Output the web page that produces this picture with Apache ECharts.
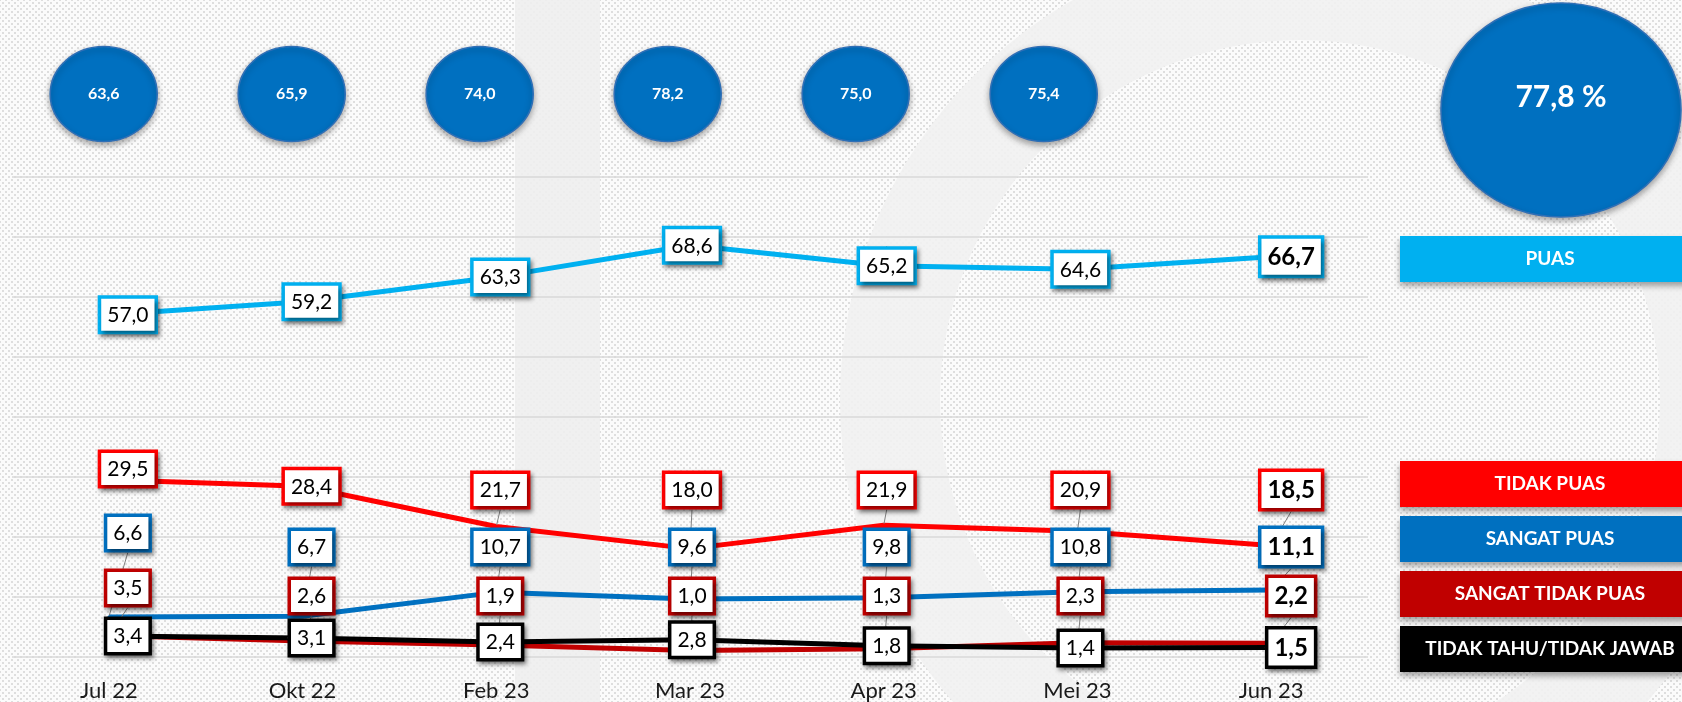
<!DOCTYPE html>
<html>
<head>
<meta charset="utf-8">
<script src="https://cdn.jsdelivr.net/npm/echarts@6/dist/echarts.min.js"></script>
<style>
  html, body { margin: 0; padding: 0; }
  #chart {
    width: 1682px; height: 702px;
    background-color: #fbfbfb;
    background-image: radial-gradient(circle, #dedede 0.9px, transparent 1.3px), radial-gradient(circle, #dedede 0.9px, transparent 1.3px);
    background-size: 6px 6px;
    background-position: 0 0, 3px 3px;
  }
</style>
</head>
<body>
<div id="chart"></div>
<script>
// ---------- data ----------
const months = ['Jul 22', 'Okt 22', 'Feb 23', 'Mar 23', 'Apr 23', 'Mei 23', 'Jun 23'];
const puas = [57.0, 59.2, 63.3, 68.6, 65.2, 64.6, 66.7];
const tidakPuas = [29.5, 28.4, 21.7, 18.0, 21.9, 20.9, 18.5];
const sangatPuas = [6.6, 6.7, 10.7, 9.6, 9.8, 10.8, 11.1];
const sangatTidakPuas = [3.5, 2.6, 1.9, 1.0, 1.3, 2.3, 2.2];
const tidakTahu = [3.4, 3.1, 2.4, 2.8, 1.8, 1.4, 1.5];
const circleMonths = ['Jul 22', 'Okt 22', 'Feb 23', 'Mar 23', 'Apr 23', 'Mei 23'];
const circleValues = [63.6, 65.9, 74.0, 78.2, 75.0, 75.4];
const latestMonth = ['Jun 23'];
const latestValue = [77.8];
const yTicks = { min: 0, max: 80, interval: 10 };

// ---------- style / layout ----------
const FONT = 'Lato, "Open Sans", sans-serif';
const C = {
  puas: '#00B0F0', tidakPuas: '#FF0000', sangatPuas: '#0070C0',
  sangatTidakPuas: '#C00000', tidakTahu: '#000000', circle: '#0070C0'
};
const COL_DX = [19, 9, 4, 2, 3, 3, 20];
const LABEL_ROW = { tidakPuas: 490, sangatPuas: 547, sangatTidakPuas: 596 };
const FIRST_LIFT = { tidakPuas: -21, sangatPuas: -14, sangatTidakPuas: -8 };
const fmt = v => v.toFixed(1).replace('.', ',');

function makeLayout(key) {
  return function (p) {
    const cx = p.rect.x + p.rect.width / 2;
    const cy = p.rect.y + p.rect.height / 2;
    const i = p.dataIndex;
    let y = cy;
    if (LABEL_ROW[key] != null) {
      y = Math.min(cy, LABEL_ROW[key] + (i === 0 ? FIRST_LIFT[key] : 0));
    }
    return { x: cx + COL_DX[i], y: y, align: 'center', verticalAlign: 'middle' };
  };
}

function lineSeries(name, key, data) {
  const last = data.length - 1;
  return {
    name: name, type: 'line', data: data,
    xAxisIndex: 0, yAxisIndex: 0,
    symbol: 'circle', symbolSize: 3, showSymbol: true,
    itemStyle: { color: C[key] },
    lineStyle: { color: C[key], width: 5 },
    emphasis: { disabled: true },
    label: {
      show: true,
      formatter: p => (p.dataIndex === last ? '{b|' + fmt(p.value) + '}' : '{n|' + fmt(p.value) + '}'),
      backgroundColor: '#ffffff',
      borderColor: C[key], borderWidth: 3.5,
      padding: [5, 6, 4, 6],
      shadowColor: 'rgba(0,0,0,0.45)', shadowBlur: 4, shadowOffsetX: 2, shadowOffsetY: 3,
      rich: {
        n: { fontFamily: FONT, fontSize: 21, color: '#000', lineHeight: 23 },
        b: { fontFamily: FONT, fontSize: 24, fontWeight: 'bold', color: '#000', lineHeight: 27 }
      }
    },
    labelLine: { show: true, lineStyle: { color: '#808080', width: 1 } },
    labelLayout: makeLayout(key),
    z: 3
  };
}

const legendRich = {};
[['p', C.puas], ['tp', C.tidakPuas], ['sp', C.sangatPuas], ['stp', C.sangatTidakPuas], ['tt', C.tidakTahu]].forEach(([k, col]) => {
  legendRich[k] = {
    width: 300, height: 46, lineHeight: 46, align: 'center',
    backgroundColor: col, color: '#fff', fontFamily: FONT, fontSize: 19, fontWeight: 'bold',
    shadowColor: 'rgba(0,0,0,0.35)', shadowBlur: 6, shadowOffsetY: 4
  };
});
const legendKey = { 'PUAS': 'p', 'TIDAK PUAS': 'tp', 'SANGAT PUAS': 'sp', 'SANGAT TIDAK PUAS': 'stp', 'TIDAK TAHU/TIDAK JAWAB': 'tt' };
const legendBase = {
  icon: 'none', itemWidth: 0, itemHeight: 0, orient: 'vertical', itemGap: 9,
  selectedMode: false,
  formatter: name => '{' + legendKey[name] + '|' + name + '}',
  textStyle: { rich: legendRich }
};

const circleStyle = { color: C.circle, opacity: 1, borderColor: '#2f6fb6', borderWidth: 1.5,
  shadowColor: 'rgba(0,0,0,0.35)', shadowBlur: 6, shadowOffsetY: 3 };

const chart = echarts.init(document.getElementById('chart'), null, { renderer: 'canvas' });
chart.setOption({
  animation: false,
  backgroundColor: 'transparent',
  graphic: [
    { type: 'rect', silent: true, z: -10, shape: { x: 515, y: 0, width: 85, height: 702 },
      style: { fill: 'rgba(238,238,238,0.9)' } },
    { type: 'ring', silent: true, z: -10, shape: { cx: 1300, cy: 400, r: 460, r0: 360 },
      style: { fill: 'rgba(241,241,241,0.9)' } }
  ],
  legend: [
    Object.assign({}, legendBase, { data: ['PUAS'], left: 1390, top: 231 }),
    Object.assign({}, legendBase, { data: ['TIDAK PUAS', 'SANGAT PUAS', 'SANGAT TIDAK PUAS', 'TIDAK TAHU/TIDAK JAWAB'], left: 1390, top: 456 })
  ],
  grid: [
    { left: 12, right: 314, top: 177, bottom: 45.5 },
    { left: 9.7, width: 1128, top: 44, height: 100 },
    { left: 1441, width: 240, top: 2, height: 216 }
  ],
  xAxis: [
    { type: 'category', gridIndex: 0, data: months, boundaryGap: true,
      axisLine: { show: false }, axisTick: { show: false },
      axisLabel: { fontFamily: FONT, fontSize: 22, color: '#1a1a1a', margin: 23 } },
    { type: 'category', gridIndex: 1, data: circleMonths, show: false },
    { type: 'category', gridIndex: 2, data: latestMonth, show: false }
  ],
  yAxis: [
    { type: 'value', gridIndex: 0, min: yTicks.min, max: yTicks.max, interval: yTicks.interval,
      axisLabel: { show: false }, axisLine: { show: false }, axisTick: { show: false },
      splitLine: { lineStyle: { color: '#d9d9d9', width: 1.5 } } },
    { type: 'category', gridIndex: 1, data: ['row'], show: false },
    { type: 'category', gridIndex: 2, data: ['row'], show: false }
  ],
  series: [
    lineSeries('SANGAT TIDAK PUAS', 'sangatTidakPuas', sangatTidakPuas),
    lineSeries('TIDAK TAHU/TIDAK JAWAB', 'tidakTahu', tidakTahu),
    lineSeries('SANGAT PUAS', 'sangatPuas', sangatPuas),
    lineSeries('TIDAK PUAS', 'tidakPuas', tidakPuas),
    lineSeries('PUAS', 'puas', puas),
    {
      type: 'scatter', xAxisIndex: 1, yAxisIndex: 1,
      data: circleValues.map((v, i) => [circleMonths[i], 'row', v]),
      encode: { x: 0, y: 1 },
      symbol: 'circle', symbolSize: [107, 95],
      itemStyle: circleStyle,
      emphasis: { disabled: true },
      label: { show: true, position: 'inside', formatter: p => fmt(p.value[2]),
        color: '#fff', fontFamily: FONT, fontSize: 16, fontWeight: 'bold' }
    },
    {
      type: 'scatter', xAxisIndex: 2, yAxisIndex: 2,
      data: latestValue.map((v, i) => [latestMonth[i], 'row', v]),
      encode: { x: 0, y: 1 },
      symbol: 'circle', symbolSize: [240, 214],
      itemStyle: circleStyle,
      emphasis: { disabled: true },
      label: { show: true, position: 'inside', offset: [0, -13], formatter: p => fmt(p.value[2]) + ' %',
        color: '#fff', fontFamily: FONT, fontSize: 30, fontWeight: 'bold' }
    }
  ]
});
</script>
</body>
</html>
